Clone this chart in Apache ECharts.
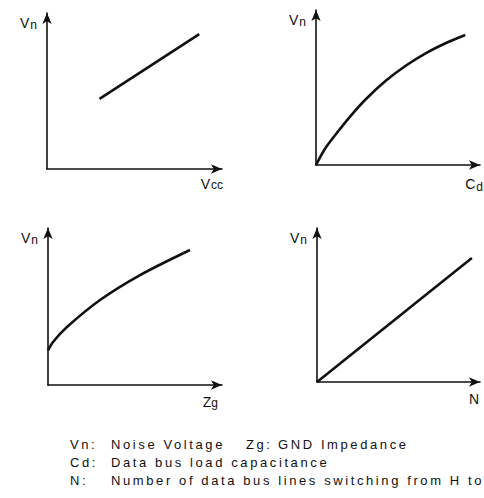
<!DOCTYPE html>
<html>
<head>
<meta charset="utf-8">
<script src="https://cdn.jsdelivr.net/npm/echarts@6/dist/echarts.min.js"></script>
<style>
  html, body { margin: 0; padding: 0; background: #fff; }
  #chart { width: 484px; height: 498px; }
  /* the footnote lines are set with wide tracking */
  #chart text[style*="Arial"] { letter-spacing: 2.6px; }
</style>
</head>
<body>
<div id="chart"></div>
<script>
// Qualitative noise-voltage dependencies, arbitrary units on 0..10 scales
const xMax = 10;
const yMax = 10;

// Vn vs supply voltage Vcc
const vccX = [3.0, 8.7];
const vccY = [4.5, 8.65];

// Vn vs data bus load capacitance Cd
const cdX = [0, 0.55, 1.22, 2.13, 3.05, 4.27, 5.49, 6.71, 7.93, 9.1];
const cdY = [0, 1.05, 2.0, 3.19, 4.26, 5.45, 6.42, 7.22, 7.87, 8.39];

// Vn vs GND impedance Zg
const zgX = [0, 0.29, 1.09, 2.99, 5.29, 8.16];
const zgY = [2.2, 2.74, 3.69, 5.41, 7.0, 8.6];

// Vn vs number of bus lines switching N
const nX = [0, 9.5];
const nY = [0, 8.05];

// axis titles
const yNames = ['V{s|n}', 'V{s|n}', 'V{s|n}', 'V{s|n}'];
const xNames = ['V{c|cc}', 'C{d|d}', 'Z{g|g}', 'N'];

// footnote rows: key, description
const noteKeys = ['Vn:', 'Cd:', 'N:'];
const noteTexts = ['Noise Voltage', 'Data bus load capacitance', 'Number of data bus lines switching from H to'];
const noteKey2 = 'Zg:';
const noteText2 = 'GND Impedance';

const ink = '#111';
const axisFont = "'Liberation Sans', Helvetica, sans-serif";
const noteFont = "'Liberation Sans', Arial";

const grids = [
  { left: 47,  top: 13,  width: 175, height: 156 },
  { left: 316, top: 10,  width: 164, height: 155 },
  { left: 48,  top: 228, width: 174, height: 157 },
  { left: 317, top: 228, width: 163, height: 154 }
];

const richSub = {
  s: { fontSize: 12, fontFamily: axisFont, color: ink, verticalAlign: 'top', padding: [4, 0, 0, 1] },
  c: { fontSize: 12, fontFamily: axisFont, color: ink, verticalAlign: 'top', padding: [3, 0, 0, 1] },
  d: { fontSize: 12, fontFamily: axisFont, color: ink, verticalAlign: 'top', padding: [6, 0, 0, 1] },
  g: { fontSize: 12, fontFamily: axisFont, color: ink, verticalAlign: 'top', padding: [2, 0, 0, 0] }
};

const xNameGaps = [1, 3, -4, -1];
const xNamePads = [7, 10, 10, 10];

function axisLine() {
  return {
    show: true,
    onZero: false,
    symbol: ['none', 'arrow'],
    symbolSize: [7, 11],
    lineStyle: { color: ink, width: 1.6 }
  };
}

const xAxes = grids.map((g, i) => ({
  type: 'value', gridIndex: i, min: 0, max: xMax,
  axisLine: axisLine(), axisTick: { show: false }, axisLabel: { show: false },
  splitLine: { show: false },
  name: xNames[i], nameLocation: 'end', nameGap: xNameGaps[i],
  nameTextStyle: {
    color: ink, fontSize: 14, fontFamily: axisFont,
    align: 'right', verticalAlign: 'top', padding: [xNamePads[i], 0, 0, 0],
    rich: richSub
  }
}));

const yAxes = grids.map((g, i) => ({
  type: 'value', gridIndex: i, min: 0, max: yMax,
  axisLine: axisLine(), axisTick: { show: false }, axisLabel: { show: false },
  splitLine: { show: false },
  name: yNames[i], nameLocation: 'end', nameGap: -2,
  nameTextStyle: {
    color: ink, fontSize: 14, fontFamily: axisFont,
    align: 'right', verticalAlign: 'top', padding: [0, 10, 0, 0],
    rich: richSub
  }
}));

function pairs(xs, ys) { return xs.map((x, i) => [x, ys[i]]); }

const curveStyle = { color: ink, width: 2.6 };
const series = [
  { data: pairs(vccX, vccY), smooth: false },
  { data: pairs(cdX, cdY), smooth: 0.3 },
  { data: pairs(zgX, zgY), smooth: 0.3 },
  { data: pairs(nX, nY), smooth: false }
].map((s, i) => ({
  type: 'line', xAxisIndex: i, yAxisIndex: i,
  data: s.data, smooth: s.smooth, showSymbol: false,
  lineStyle: curveStyle, silent: true
}));

const noteStyle = { color: ink, fontSize: 13, fontWeight: 'normal', fontFamily: noteFont, lineHeight: 14 };
const rowTops = [437, 455, 473];
const titles = [];
noteKeys.forEach((k, i) => {
  titles.push({ text: k, left: 70, top: rowTops[i], padding: 0, textStyle: noteStyle });
  titles.push({ text: noteTexts[i], left: 111, top: rowTops[i], padding: 0, textStyle: noteStyle });
});
titles.push({ text: noteKey2, left: 246, top: rowTops[0], padding: 0, textStyle: noteStyle });
titles.push({ text: noteText2, left: 278, top: rowTops[0], padding: 0, textStyle: noteStyle });

const chart = echarts.init(document.getElementById('chart'), null, { renderer: 'svg' });
chart.setOption({
  animation: false,
  backgroundColor: '#fff',
  title: titles,
  grid: grids,
  xAxis: xAxes,
  yAxis: yAxes,
  series: series
});
</script>
</body>
</html>
